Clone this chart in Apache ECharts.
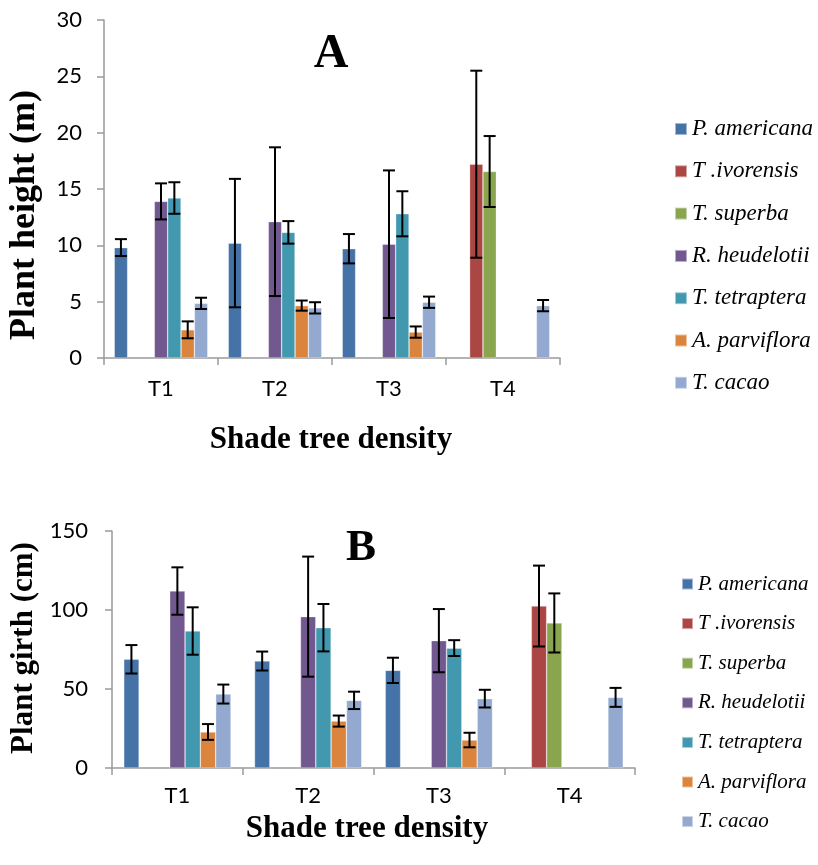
<!DOCTYPE html>
<html>
<head>
<meta charset="utf-8">
<script src="https://cdn.jsdelivr.net/npm/echarts@6/dist/echarts.min.js"></script>
<style>
html,body{margin:0;padding:0;background:#fff;}
#chart{width:818px;height:865px;}
</style>
</head>
<body>
<div id="chart"></div>
<script>
// ---------- data ----------
const categories = ['T1', 'T2', 'T3', 'T4'];
const speciesNames = ['P. americana', 'T .ivorensis', 'T. superba', 'R. heudelotii', 'T. tetraptera', 'A. parviflora', 'T. cacao'];

// Panel A: plant height (m), mean and error
const heightPAmericana = [9.8, 10.2, 9.7, null];
const heightPAmericanaErr = [0.75, 5.7, 1.3, null];
const heightTIvorensis = [null, null, null, 17.2];
const heightTIvorensisErr = [null, null, null, 8.3];
const heightTSuperba = [null, null, null, 16.55];
const heightTSuperbaErr = [null, null, null, 3.15];
const heightRHeudelotii = [13.9, 12.1, 10.1, null];
const heightRHeudelotiiErr = [1.6, 6.6, 6.55, null];
const heightTTetraptera = [14.2, 11.15, 12.8, null];
const heightTTetrapteraErr = [1.4, 1.0, 2.0, null];
const heightAParviflora = [2.5, 4.65, 2.3, null];
const heightAParvifloraErr = [0.75, 0.45, 0.5, null];
const heightTCacao = [4.85, 4.45, 4.95, 4.65];
const heightTCacaoErr = [0.5, 0.5, 0.5, 0.5];

// Panel B: plant girth (cm), mean and error
const girthPAmericana = [68.8, 67.7, 61.8, null];
const girthPAmericanaErr = [9, 6, 8, null];
const girthTIvorensis = [null, null, null, 102.5];
const girthTIvorensisErr = [null, null, null, 25.6];
const girthTSuperba = [null, null, null, 91.8];
const girthTSuperbaErr = [null, null, null, 18.7];
const girthRHeudelotii = [112, 95.8, 80.6, null];
const girthRHeudelotiiErr = [15, 38, 20, null];
const girthTTetraptera = [86.7, 88.8, 75.9, null];
const girthTTetrapteraErr = [15, 15, 5, null];
const girthAParviflora = [22.8, 29.7, 17.7, null];
const girthAParvifloraErr = [5, 3.5, 4.6, null];
const girthTCacao = [46.8, 42.8, 43.9, 44.7];
const girthTCacaoErr = [6, 5.5, 5.6, 6];

// axis ticks
const heightAxisMin = 0, heightAxisMax = 30, heightAxisStep = 5;
const girthAxisMin = 0, girthAxisMax = 150, girthAxisStep = 50;

// ---------- styling ----------
const colors = ['#4572A7', '#AA4643', '#89A54E', '#71588F', '#4198AF', '#DB843D', '#93A9CF'];
const GAP = 0.18;
const AXIS_COLOR = '#9a9a9a';
const TICK_FONT = 'Lato';
const SERIF_NAME = 'Liberation Serif';
const SERIF = '"Liberation Serif", serif';

const heightValues = [heightPAmericana, heightTIvorensis, heightTSuperba, heightRHeudelotii, heightTTetraptera, heightAParviflora, heightTCacao];
const heightErrors = [heightPAmericanaErr, heightTIvorensisErr, heightTSuperbaErr, heightRHeudelotiiErr, heightTTetrapteraErr, heightAParvifloraErr, heightTCacaoErr];
const girthValues = [girthPAmericana, girthTIvorensis, girthTSuperba, girthRHeudelotii, girthTTetraptera, girthAParviflora, girthTCacao];
const girthErrors = [girthPAmericanaErr, girthTIvorensisErr, girthTSuperbaErr, girthRHeudelotiiErr, girthTTetrapteraErr, girthAParvifloraErr, girthTCacaoErr];

function errorData(values, errors) {
  const out = [];
  values.forEach((arr, s) => {
    arr.forEach((v, c) => {
      if (v != null && errors[s][c] != null) {
        out.push([c, s, v - errors[s][c], v + errors[s][c]]);
      }
    });
  });
  return out;
}

function renderErr(params, api) {
  const cat = api.value(0), slot = api.value(1);
  const lo = api.coord([cat, api.value(2)]);
  const hi = api.coord([cat, api.value(3)]);
  const band = api.size([1, 0])[0];
  const used = band * (1 - GAP);
  const bw = used / speciesNames.length;
  const x = lo[0] - used / 2 + (slot + 0.5) * bw;
  const cap = 6;
  const st = { stroke: '#000', lineWidth: 2 };
  return {
    type: 'group',
    children: [
      { type: 'line', shape: { x1: x, y1: hi[1], x2: x, y2: lo[1] }, style: st },
      { type: 'line', shape: { x1: x - cap, y1: hi[1], x2: x + cap, y2: hi[1] }, style: st },
      { type: 'line', shape: { x1: x - cap, y1: lo[1], x2: x + cap, y2: lo[1] }, style: st }
    ]
  };
}

function barSeries(values, axisIdx) {
  return values.map((arr, s) => ({
    name: speciesNames[s],
    type: 'bar',
    xAxisIndex: axisIdx,
    yAxisIndex: axisIdx,
    data: arr.map(v => (v == null ? '-' : v)),
    barGap: '0%',
    barCategoryGap: (GAP * 100) + '%',
    itemStyle: { color: colors[s], borderColor: 'rgba(255,255,255,0.5)', borderWidth: 0.6 },
    emphasis: { disabled: true },
    animation: false
  }));
}

function xAxis(gridIndex, margin) {
  return {
    type: 'category', gridIndex, data: categories,
    axisLine: { lineStyle: { color: AXIS_COLOR, width: 1.5 } },
    axisTick: { show: true, length: 7, lineStyle: { color: AXIS_COLOR, width: 1.5 } },
    axisLabel: { color: '#000', fontFamily: TICK_FONT, fontSize: 22, margin }
  };
}
function yAxis(gridIndex, min, max, step, margin) {
  return {
    type: 'value', gridIndex, min, max, interval: step,
    axisLine: { show: true, lineStyle: { color: AXIS_COLOR, width: 1.5 } },
    axisTick: { show: true, length: 7, lineStyle: { color: AXIS_COLOR, width: 1.5 } },
    splitLine: { show: false },
    axisLabel: { color: '#000', fontFamily: TICK_FONT, fontSize: 22, margin }
  };
}

const chart = echarts.init(document.getElementById('chart'), null, { renderer: 'canvas' });

const option = {
  backgroundColor: '#fff',
  animation: false,
  color: colors,
  grid: [
    { left: 104, top: 20, width: 456, height: 338 },
    { left: 112, top: 531, width: 523, height: 237 }
  ],
  xAxis: [xAxis(0, 20), xAxis(1, 17)],
  yAxis: [
    yAxis(0, heightAxisMin, heightAxisMax, heightAxisStep, 22),
    yAxis(1, girthAxisMin, girthAxisMax, girthAxisStep, 24)
  ],
  legend: [
    {
      orient: 'vertical', left: 669, top: 112, itemWidth: 12, itemHeight: 12, itemGap: 18.3,
      icon: 'rect', data: speciesNames, selectedMode: false,
      textStyle: { fontFamily: SERIF_NAME, fontStyle: 'italic', fontWeight: 'normal', fontSize: 23, lineHeight: 24, color: '#000' }
    },
    {
      orient: 'vertical', left: 676, top: 568, itemWidth: 11, itemHeight: 11, itemGap: 17.6,
      icon: 'rect', data: speciesNames, selectedMode: false,
      textStyle: { fontFamily: SERIF_NAME, fontStyle: 'italic', fontWeight: 'normal', fontSize: 21, lineHeight: 22, color: '#000' }
    }
  ],
  graphic: [
    { type: 'text', x: 331, y: 55, style: { text: 'A', font: 'bold 48px ' + SERIF, fill: '#000', textAlign: 'center', textVerticalAlign: 'middle' } },
    { type: 'text', x: 361, y: 548, style: { text: 'B', font: 'bold 45px ' + SERIF, fill: '#000', textAlign: 'center', textVerticalAlign: 'middle' } },
    { type: 'text', x: 25, y: 215, rotation: Math.PI / 2, style: { text: 'Plant height (m)', font: 'bold 36px ' + SERIF, fill: '#000', textAlign: 'center', textVerticalAlign: 'middle' } },
    { type: 'text', x: 24, y: 648, rotation: Math.PI / 2, style: { text: 'Plant girth (cm)', font: 'bold 31px ' + SERIF, fill: '#000', textAlign: 'center', textVerticalAlign: 'middle' } },
    { type: 'text', x: 331, y: 440, style: { text: 'Shade tree density', font: 'bold 31px ' + SERIF, fill: '#000', textAlign: 'center', textVerticalAlign: 'middle' } },
    { type: 'text', x: 367, y: 829, style: { text: 'Shade tree density', font: 'bold 31px ' + SERIF, fill: '#000', textAlign: 'center', textVerticalAlign: 'middle' } }
  ],
  series: [
    ...barSeries(heightValues, 0),
    ...barSeries(girthValues, 1),
    {
      name: 'height error', type: 'custom', xAxisIndex: 0, yAxisIndex: 0,
      renderItem: renderErr, data: errorData(heightValues, heightErrors),
      encode: { x: 0, y: [2, 3] }, z: 10, silent: true
    },
    {
      name: 'girth error', type: 'custom', xAxisIndex: 1, yAxisIndex: 1,
      renderItem: renderErr, data: errorData(girthValues, girthErrors),
      encode: { x: 0, y: [2, 3] }, z: 10, silent: true
    }
  ]
};
chart.setOption(option);
</script>
</body>
</html>
